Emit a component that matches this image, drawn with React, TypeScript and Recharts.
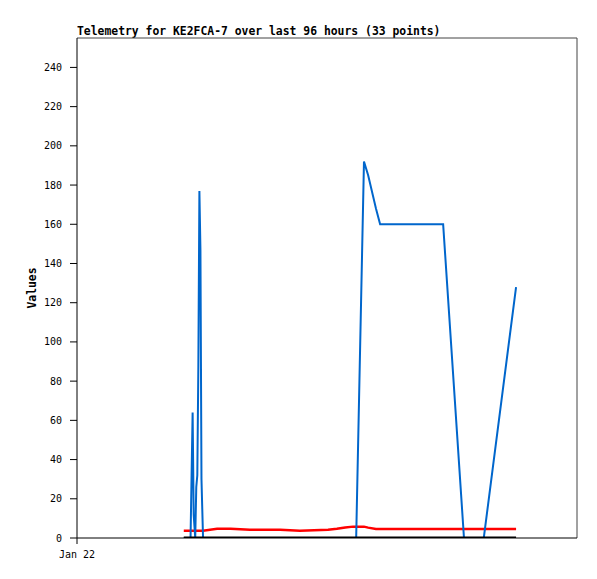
import { CartesianGrid, Line, LineChart, ReferenceLine, XAxis, YAxis } from "recharts";

// hours since Jan 22 00:00
const hours = [
  20.5, 21.8, 22.0, 22.2, 22.4, 22.7, 22.9, 23.1, 23.3, 23.5, 23.7, 23.9, 24.2,
  26.9, 29.5, 33.2, 39.0, 42.8, 48.2, 49.9, 51.5, 53.0, 53.6, 55.1, 55.9, 57.4,
  58.2, 62.0, 66.0, 70.3, 74.3, 78.1, 84.3,
];
const blueValues = [
  0, 0, 32, 64, 12, 0, 26, 32, 88, 177, 147, 30, 0,
  0, 0, 0, 0, 0, 0, 0, 0, 0, 0, 192, 185, 168,
  160, 160, 160, 160, 0, 0, 128,
];
const redValues = [
  3.7, 3.7, 3.7, 3.7, 3.7, 3.7, 3.7, 3.7, 3.7, 3.7, 3.7, 3.7, 3.7,
  4.7, 4.7, 4.2, 4.2, 3.7, 4.2, 4.7, 5.4, 5.8, 5.8, 5.8, 5.3, 4.6,
  4.6, 4.6, 4.6, 4.6, 4.6, 4.6, 4.6,
];
const yTicks = [0, 20, 40, 60, 80, 100, 120, 140, 160, 180, 200, 220, 240];
const xTicks = [0];
const xTickLabels = ["Jan 22"];

const data = hours.map((h, i) => ({
  h,
  blue: blueValues[i],
  red: redValues[i],
  zero: 0,
}));

const mono = "'DejaVu Sans Mono', monospace";

export default function App() {
  return (
    <div style={{ position: "absolute", left: 0, top: 0, width: 597, height: 579, background: "#fff" }}>
      <div
        style={{
          position: "absolute",
          left: 77,
          top: 25,
          fontFamily: mono,
          fontWeight: "bold",
          fontSize: 11.4,
          lineHeight: "13px",
          whiteSpace: "nowrap",
        }}
      >
        Telemetry for KE2FCA-7 over last 96 hours (33 points)
      </div>
      <LineChart
        width={597}
        height={579}
        data={data}
        margin={{ top: 38, right: 20, left: 0, bottom: 0 }}
      >
        <CartesianGrid stroke="none" />
        <XAxis
          dataKey="h"
          type="number"
          domain={[0, 96]}
          ticks={xTicks}
          tickFormatter={(v: number) => xTickLabels[xTicks.indexOf(v)] ?? ""}
          height={41}
          tickSize={6}
          tickMargin={7}
          stroke="#000"
          tick={{ fill: "#000", fontSize: 10, fontFamily: mono }}
          allowDataOverflow
        />
        <YAxis
          type="number"
          domain={[0, 255]}
          ticks={yTicks}
          width={77}
          tickSize={7}
          tickMargin={8}
          stroke="#000"
          tick={{ fill: "#000", fontSize: 10, fontFamily: mono }}
          interval={0}
          label={{
            value: "Values",
            angle: -90,
            position: "insideLeft",
            offset: 32,
            style: { fill: "#000", fontSize: 11.4, fontWeight: "bold", fontFamily: mono, textAnchor: "middle" },
          }}
          allowDataOverflow
        />
        <ReferenceLine y={255} stroke="#444" strokeWidth={1} />
        <ReferenceLine x={96} stroke="#444" strokeWidth={1} />
        <Line
          dataKey="red"
          type="linear"
          stroke="#ff0000"
          strokeWidth={2.5}
          dot={false}
          isAnimationActive={false}
        />
        <Line
          dataKey="blue"
          type="linear"
          stroke="#0066cc"
          strokeWidth={2}
          dot={false}
          isAnimationActive={false}
        />
        <Line
          dataKey="zero"
          type="linear"
          stroke="#000"
          strokeWidth={3}
          dot={false}
          isAnimationActive={false}
        />
      </LineChart>
    </div>
  );
}
